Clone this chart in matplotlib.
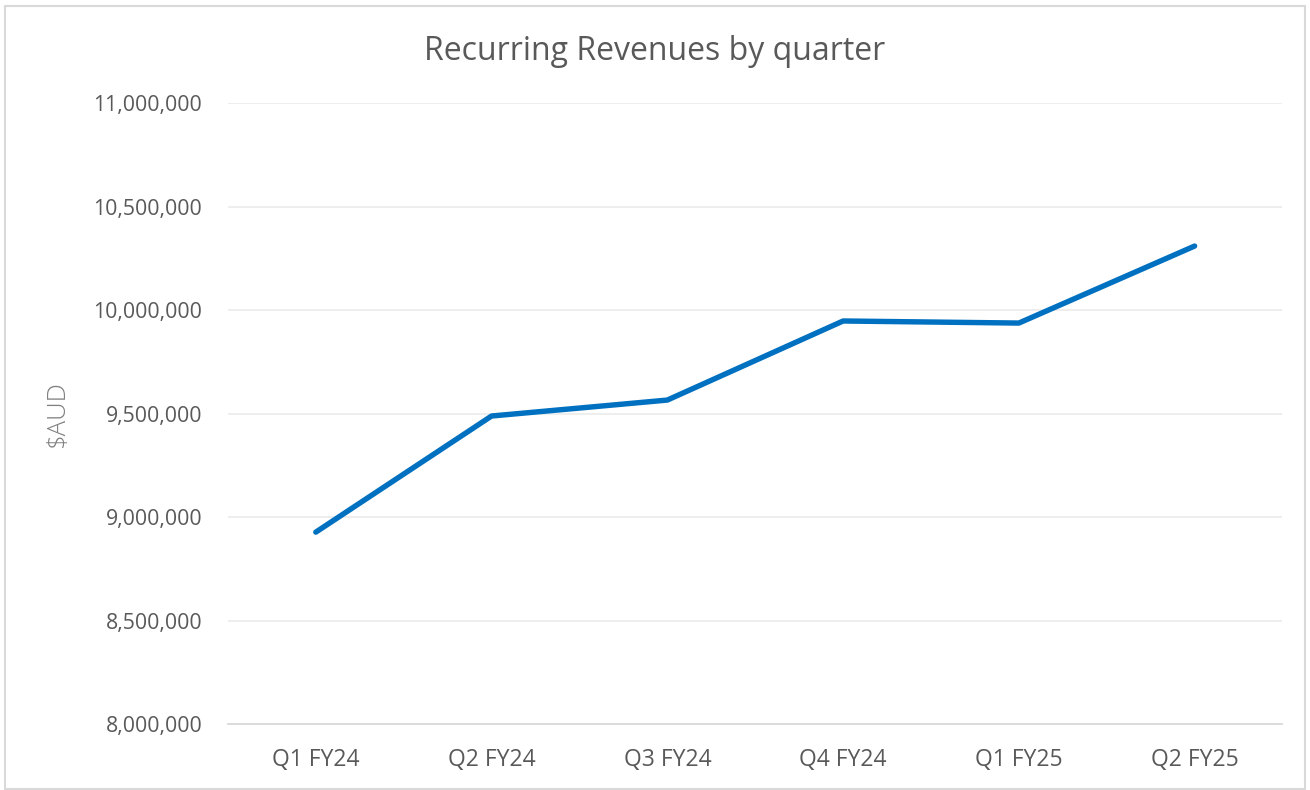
import matplotlib
matplotlib.use('Agg')
import matplotlib.pyplot as plt
from matplotlib.patches import Rectangle
from matplotlib.ticker import FuncFormatter

# data
quarters = ['Q1 FY24', 'Q2 FY24', 'Q3 FY24', 'Q4 FY24', 'Q1 FY25', 'Q2 FY25']
revenue = [8927000, 9488000, 9565000, 9947000, 9937000, 10309000]
y_ticks = [8000000, 8500000, 9000000, 9500000, 10000000, 10500000, 11000000]

plt.rcParams['font.family'] = ['Open Sans', 'DejaVu Sans']
text_col = '#595959'

fig = plt.figure(figsize=(13.1, 7.9), dpi=100)
ax = fig.add_axes([0.174, 0.0835, 0.805, 0.7861])

# outer chart border
fig.patches.append(Rectangle((0.004, 0.001), 0.992, 0.991, transform=fig.transFigure,
                             fill=False, edgecolor='#D9D9D9', linewidth=1.5))

x = list(range(len(quarters)))
ax.plot(x, revenue, color='#0070C0', linewidth=3.9, solid_capstyle='round', zorder=3)

ax.set_xlim(-0.5, len(quarters) - 0.5)
ax.set_ylim(8000000, 11000000)
ax.set_yticks(y_ticks)
ax.yaxis.set_major_formatter(FuncFormatter(lambda v, p: f'{int(v):,}'))
ax.set_xticks(x)
ax.set_xticklabels(quarters)

ax.grid(axis='y', color='#EBEBEB', linewidth=1.2)
ax.set_axisbelow(True)
for s in ['top', 'right', 'left']:
    ax.spines[s].set_visible(False)
ax.spines['bottom'].set_color('#D9D9D9')
ax.spines['bottom'].set_linewidth(1.3)
ax.tick_params(length=0, labelcolor=text_col)
ax.tick_params(axis='y', pad=18.5, labelsize=15.3)
ax.tick_params(axis='x', pad=17, labelsize=16.5)

ax.set_ylabel('$AUD', fontsize=18.5, color='#808080', fontweight='light')
ax.yaxis.label.set_va('center')
ax.yaxis.set_label_coords(-0.162, 0.5)
fig.text(0.5, 0.935, 'Recurring Revenues by quarter', ha='center', va='center',
         fontsize=23, color=text_col)

plt.savefig('out.png', dpi=100)
